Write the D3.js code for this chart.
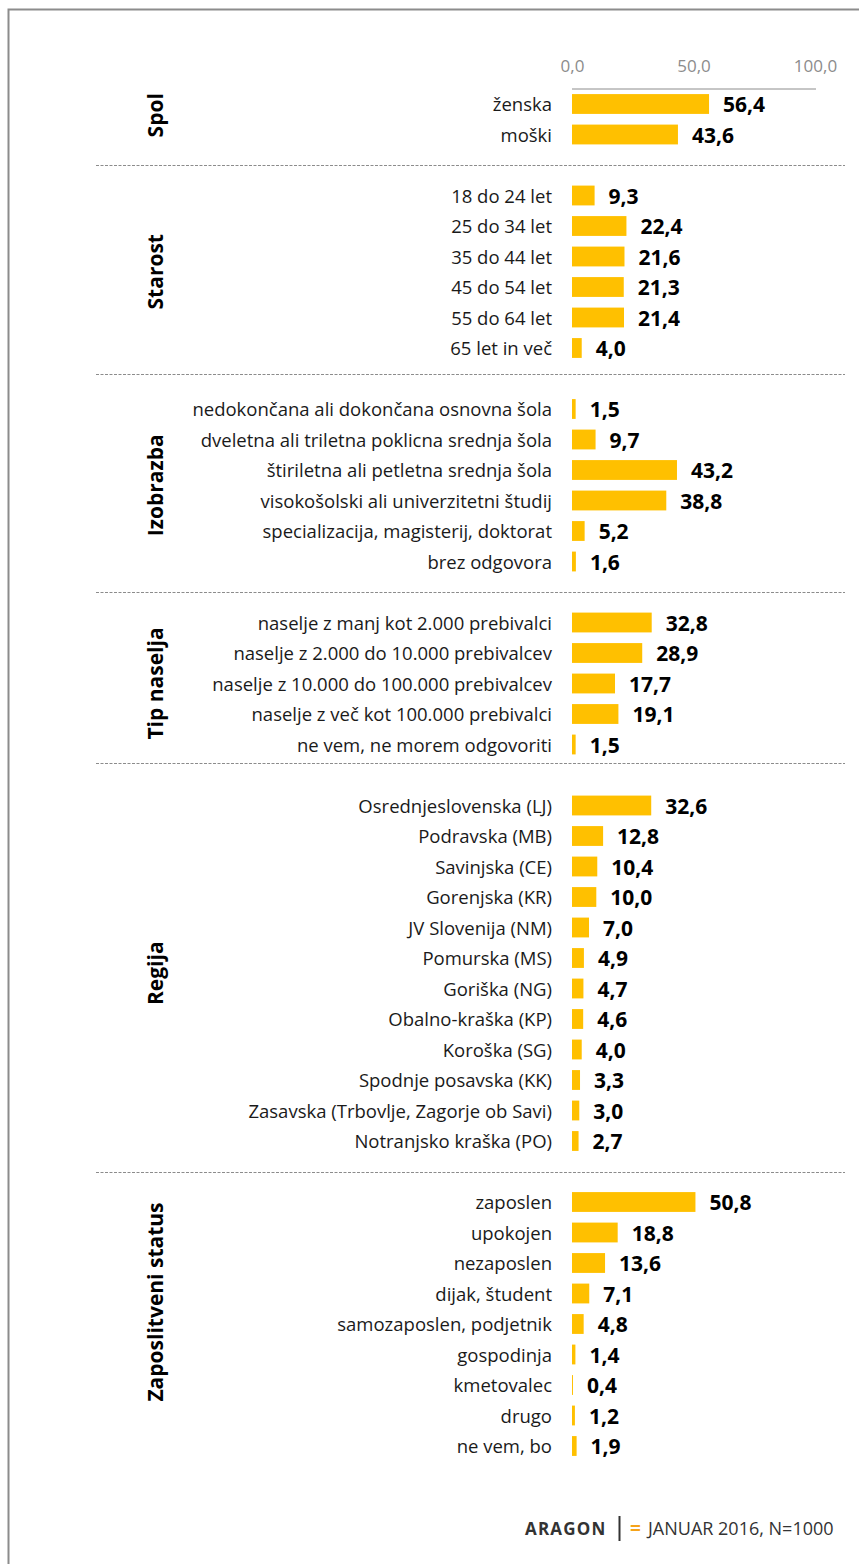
<!DOCTYPE html>
<html lang="sl">
<head>
<meta charset="UTF-8" />
<title>Struktura vzorca</title>
<script src="https://cdn.jsdelivr.net/npm/d3@7"></script>
<style>
  body { margin: 0; background: #fff; }
  svg { display: block; font-family: "Open Sans", sans-serif; }
</style>
</head>
<body>
<script>
// group titles
var groupNames = ["Spol", "Starost", "Izobrazba", "Tip naselja", "Regija", "Zaposlitveni status"];

var spolLabels = ["ženska", "moški"];
var spolValues = [56.4, 43.6];

var starostLabels = ["18 do 24 let", "25 do 34 let", "35 do 44 let", "45 do 54 let", "55 do 64 let", "65 let in več"];
var starostValues = [9.3, 22.4, 21.6, 21.3, 21.4, 4.0];

var izobrazbaLabels = ["nedokončana ali dokončana osnovna šola", "dveletna ali triletna poklicna srednja šola",
  "štiriletna ali petletna srednja šola", "visokošolski ali univerzitetni študij",
  "specializacija, magisterij, doktorat", "brez odgovora"];
var izobrazbaValues = [1.5, 9.7, 43.2, 38.8, 5.2, 1.6];

var naseljeLabels = ["naselje z manj kot 2.000 prebivalci", "naselje z 2.000 do 10.000 prebivalcev",
  "naselje z 10.000 do 100.000 prebivalcev", "naselje z več kot 100.000 prebivalci", "ne vem, ne morem odgovoriti"];
var naseljeValues = [32.8, 28.9, 17.7, 19.1, 1.5];

var regijaLabels = ["Osrednjeslovenska (LJ)", "Podravska (MB)", "Savinjska (CE)", "Gorenjska (KR)",
  "JV Slovenija (NM)", "Pomurska (MS)", "Goriška (NG)", "Obalno-kraška (KP)", "Koroška (SG)",
  "Spodnje posavska (KK)", "Zasavska (Trbovlje, Zagorje ob Savi)", "Notranjsko kraška (PO)"];
var regijaValues = [32.6, 12.8, 10.4, 10.0, 7.0, 4.9, 4.7, 4.6, 4.0, 3.3, 3.0, 2.7];

var statusLabels = ["zaposlen", "upokojen", "nezaposlen", "dijak, študent", "samozaposlen, podjetnik",
  "gospodinja", "kmetovalec", "drugo", "ne vem, bo"];
var statusValues = [50.8, 18.8, 13.6, 7.1, 4.8, 1.4, 0.4, 1.2, 1.9];

var xTicks = [0, 50, 100];

var groups = [
  [spolLabels, spolValues], [starostLabels, starostValues], [izobrazbaLabels, izobrazbaValues],
  [naseljeLabels, naseljeValues], [regijaLabels, regijaValues], [statusLabels, statusValues]
];

// rows: every group followed by one empty row holding the separator
var rows = [], rowKeys = [], groupInfo = [];
groups.forEach(function(g, gi) {
  var first = rowKeys.length;
  g[0].forEach(function(lab, i) {
    var key = "r" + rowKeys.length;
    rowKeys.push(key);
    rows.push({key: key, label: lab, value: g[1][i]});
  });
  var last = rowKeys.length - 1;
  var gap = null;
  if (gi < groups.length - 1) {
    gap = "gap" + gi;
    rowKeys.push(gap);
  }
  groupInfo.push({name: groupNames[gi], first: "r" + first, last: "r" + last, gap: gap});
});

var w = 859, h = 1564;
var fmt = function(v) { return d3.format(".1f")(v).replace(".", ","); };

var svg = d3.select("body").append("svg").attr("width", w).attr("height", h);

// frame
svg.append("rect")
   .attr("x", 8.5).attr("y", 9.5)
   .attr("width", 900).attr("height", 1600)
   .attr("fill", "none").attr("stroke", "#8c8c8c").attr("stroke-width", 2);

var x = d3.scaleLinear().domain([0, 100]).range([572, 815]);
var y = d3.scaleBand().domain(rowKeys)
          .range([88.75, 88.75 + rowKeys.length * 30.5])
          .paddingInner(0.35).paddingOuter(0.175);

// top axis
var xAxis = d3.axisTop(x).tickValues(xTicks).tickSize(0).tickPadding(17).tickFormat(fmt);
var ax = svg.append("g").attr("transform", "translate(0,89)").call(xAxis);
ax.select(".domain").attr("stroke", "#8c8c8c").attr("d", "M" + x(0) + ",0H" + (x(100) + 1));
ax.selectAll("text").attr("fill", "#8c8c8c").style("font-size", "17px")
  .style("font-family", "Open Sans, sans-serif");

// separators
var sepShift = [0, -5, 0, -12, 0];
groupInfo.forEach(function(g, i) {
  if (!g.gap) return;
  var sy = Math.round(y(g.gap) + y.bandwidth() / 2 + sepShift[i]) + 0.5;
  svg.append("line")
     .attr("x1", 96).attr("x2", 845).attr("y1", sy).attr("y2", sy)
     .attr("stroke", "#8c8c8c").attr("stroke-dasharray", "3,1.5");
});

// group titles
var titleShift = [-4, 0, 0, 0, 0, -22];
svg.selectAll("text.group")
   .data(groupInfo).enter().append("text")
   .attr("class", "group")
   .attr("transform", function(d, i) {
     var cy = (y(d.first) + y(d.last) + y.bandwidth()) / 2 + titleShift[i];
     return "translate(163," + cy + ")rotate(-90)";
   })
   .attr("text-anchor", "middle")
   .style("font-size", "21px").style("font-weight", "bold")
   .text(function(d) { return d.name; });

// bars
svg.selectAll("rect.bar")
   .data(rows).enter().append("rect")
   .attr("class", "bar")
   .attr("x", x(0))
   .attr("y", function(d) { return y(d.key); })
   .attr("width", function(d) { return x(d.value) - x(0); })
   .attr("height", y.bandwidth())
   .attr("fill", "#ffc000");

// category labels
svg.selectAll("text.cat")
   .data(rows).enter().append("text")
   .attr("class", "cat")
   .attr("x", 552)
   .attr("y", function(d) { return y(d.key) + y.bandwidth() / 2; })
   .attr("dy", "0.38em")
   .attr("text-anchor", "end")
   .attr("fill", "#1a1a1a")
   .style("font-size", "18.5px")
   .text(function(d) { return d.label; });

// value labels
svg.selectAll("text.val")
   .data(rows).enter().append("text")
   .attr("class", "val")
   .attr("x", function(d) { return x(d.value) + 14; })
   .attr("y", function(d) { return y(d.key) + y.bandwidth() / 2; })
   .attr("dy", "0.4em")
   .style("font-size", "21px").style("font-weight", "bold")
   .text(function(d) { return fmt(d.value); });

// footer
svg.append("text").attr("x", 525).attr("y", 1535)
   .style("font-size", "17px").style("font-weight", "bold").style("letter-spacing", "1.2px")
   .attr("fill", "#333").text("ARAGON");
svg.append("line").attr("x1", 619.5).attr("x2", 619.5).attr("y1", 1516).attr("y2", 1541)
   .attr("stroke", "#333").attr("stroke-width", 2);
svg.append("text").attr("x", 630).attr("y", 1535)
   .style("font-size", "19px").style("font-weight", "bold")
   .attr("fill", "#f5a31a").text("=");
svg.append("text").attr("x", 648).attr("y", 1535)
   .style("font-size", "18px").attr("fill", "#333").text("JANUAR 2016, N=1000");
</script>
</body>
</html>
